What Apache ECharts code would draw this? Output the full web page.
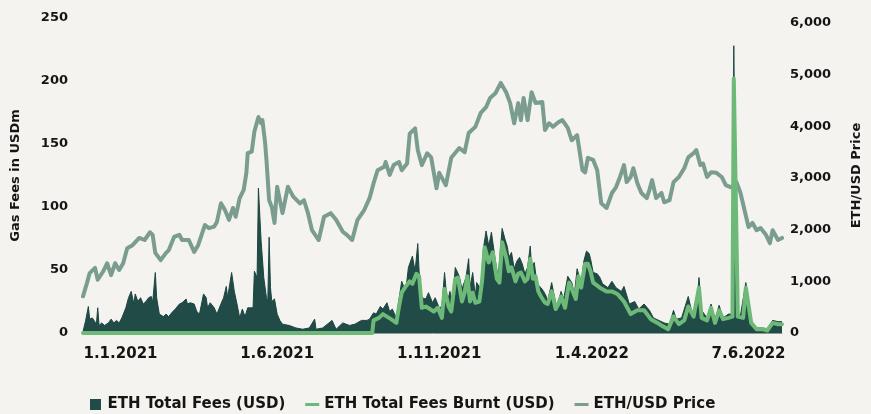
<!DOCTYPE html>
<html><head><meta charset="utf-8">
<script src="https://cdn.jsdelivr.net/npm/echarts@6/dist/echarts.min.js"></script>
<style>html,body{margin:0;padding:0;background:#f4f3ef;}#c{width:871px;height:414px;}</style>
</head><body><div id="c"></div>
<script>
// x = day index counted from 1.1.2021 (0 .. 522)
const xTickDays = [28, 145, 266, 380, 497];
const xTickLabels = ['1.1.2021', '1.6.2021', '1.11.2021', '1.4.2022', '7.6.2022'];

const priceDays = [0,3,5,9,11,15,18,21,24,27,30,33,37,42,46,50,52,54,58,62,64,68,72,74,79,83,86,91,94,98,100,103,106,109,112,114,117,120,122,123,126,128,131,133,134,136,137,139,141,143,145,149,153,157,162,165,168,171,176,180,185,189,194,197,201,205,210,214,217,220,225,226,229,232,236,238,242,244,248,250,253,257,260,264,266,271,275,281,285,288,293,297,301,304,308,312,316,319,322,325,327,329,332,335,338,343,345,348,351,355,358,362,365,369,373,375,377,381,384,387,391,395,398,401,404,406,409,411,414,417,421,423,425,428,432,434,438,441,445,449,452,456,458,461,463,466,469,473,477,480,484,488,491,494,497,500,503,506,510,513,515,519,522];
const priceValues = [710,970,1160,1260,1030,1190,1350,1120,1350,1220,1350,1640,1700,1840,1800,1950,1900,1550,1410,1550,1600,1860,1900,1800,1800,1570,1700,2090,2030,2060,2150,2510,2380,2190,2420,2250,2610,2770,3100,3480,3510,3900,4180,4060,4120,3680,3350,2570,2440,2130,2830,2320,2830,2640,2510,2570,2320,1990,1800,2250,2320,2190,1960,1900,1800,2190,2380,2610,2900,3150,3220,3310,3060,3250,3310,3150,3280,3860,3960,3540,3250,3480,3400,2800,3100,2860,3390,3580,3500,3870,3990,4260,4370,4550,4640,4840,4660,4450,4060,4450,4120,4550,4120,4660,4450,4470,3930,4060,3990,4080,4120,3970,3730,3830,3150,3110,3390,3350,3150,2510,2420,2710,2820,3020,3250,2920,3020,3190,2900,2710,2610,2770,2960,2610,2710,2530,2570,2920,3020,3190,3400,3480,3540,3250,3280,3020,3110,3100,3020,2860,2820,2920,2710,2380,2050,2130,1990,2030,1900,1740,1990,1800,1840];

const feeDays = [0,2,4,5,7,8,10,11,12,14,16,19,21,23,25,27,29,30,32,34,36,38,39,41,43,45,47,49,51,52,54,55,57,60,62,64,67,69,72,74,77,78,80,83,85,87,90,92,93,95,98,100,103,105,107,108,111,113,115,117,119,121,123,125,127,128,130,
  131,133,135,137,138,139,140,141,143,145,147,149,154,159,164,169,173,174,179,186,189,194,199,203,208,
  212,214,217,219,222,224,227,229,231,234,236,238,241,243,246,248,250,251,253,256,258,261,263,266,268,270,272,274,276,278,281,283,286,288,289,291,293,294,297,299,301,303,305,308,310,313,315,317,318,320,322,324,326,328,330,332,334,335,337,339,342,344,346,347,350,352,354,357,359,362,365,367,369,372,374,376,378,379,381,
  384,386,388,392,395,398,402,404,408,412,415,419,423,426,430,434,438,441,443,447,452,455,458,460,462,466,469,472,475,478,482,485,486,488,491,495,498,500,503,507,511,515,519,522];
const feeValues = [1,10,21,11,12,11,7,20,6,8,6,8,11,8,10,8,12,11,20,28,33,23,31,25,28,23,25,28,29,24,48,28,15,13,15,13,17,19,23,24,27,23,24,23,17,15,31,28,20,24,20,15,23,28,37,28,48,33,23,12,19,13,20,20,20,49,44,
  115,73,44,28,25,76,36,25,27,15,10,7,6,4,3,4,11,3,4,10,3,8,6,7,10,
  10,11,16,15,21,19,24,17,19,12,27,41,33,52,61,49,71,49,28,27,32,24,28,20,21,48,24,33,24,52,45,35,44,59,36,48,29,40,35,67,81,69,80,57,44,83,75,68,60,64,51,57,60,55,47,52,69,52,56,39,36,33,29,25,40,29,20,33,27,45,40,31,51,39,57,65,63,59,48,
  47,44,39,36,41,36,33,37,23,25,19,23,18,12,10,8,7,18,11,12,29,15,16,44,18,12,23,10,22,12,15,15,228,15,14,40,14,5,4,4,3,10,9,9];

const burntDays = [0,216,217,221,224,227,230,234,236,238,241,244,246,249,251,253,256,259,262,265,268,270,273,275,278,280,283,285,287,289,291,293,296,298,300,303,306,309,311,313,316,318,320,323,325,327,330,332,334,336,338,340,342,345,347,350,353,355,357,360,363,365,368,370,372,375,377,379,381,
  386,391,395,399,404,409,414,419,424,429,432,437,441,445,449,452,456,460,462,466,469,472,475,478,482,485,486,489,493,495,499,503,508,511,515,519,522];
const burntValues = [0,0,10,12,15,13,11,8,21,32,37,41,39,47,45,20,21,19,17,20,12,35,21,17,43,44,25,32,45,25,32,24,25,41,68,56,64,43,40,72,60,49,52,41,47,48,41,43,59,43,45,33,29,24,23,33,19,23,29,20,40,35,27,45,36,55,55,49,40,
  36,33,33,31,25,15,18,18,11,8,6,3,13,7,10,21,13,36,12,10,20,8,18,11,12,13,202,13,12,36,8,3,3,2,8,7,7];

function zip(a, b, name) {
  if (a.length !== b.length) throw new Error(name + ' length mismatch ' + a.length + ' vs ' + b.length);
  return a.map((d, i) => [d, b[i]]);
}

const FONT = 'DejaVu Sans';
const TXT = '#151515';
const chart = echarts.init(document.getElementById('c'), null, {renderer: 'canvas'});
chart.setOption({
  backgroundColor: '#f4f3ef',
  animation: false,
  textStyle: {fontFamily: FONT, fontWeight: 'bold', color: TXT},
  grid: {left: 83, right: 81, top: 18, bottom: 81},
  legend: {
    left: 85, top: 392, itemGap: 20, itemWidth: 14, itemHeight: 11,
    textStyle: {fontFamily: FONT, fontWeight: 'bold', fontSize: 15, color: TXT},
    data: [
      {name: 'ETH Total Fees (USD)', icon: 'path://M0,0H10V10H0Z'},
      {name: 'ETH Total Fees Burnt (USD)', icon: 'path://M0,0H14V3H0Z'},
      {name: 'ETH/USD Price', icon: 'path://M0,0H14V3H0Z'}
    ]
  },
  xAxis: {
    type: 'value', min: 0, max: 522,
    splitLine: {show: false},
    axisTick: {show: false},
    axisLine: {show: true, lineStyle: {color: '#8f9d99', width: 1}},
    axisLabel: {
      customValues: xTickDays,
      margin: 14, fontSize: 15, fontWeight: 'bold', color: TXT, fontFamily: FONT,
      formatter: function (v) { const i = xTickDays.indexOf(Math.round(v)); return i >= 0 ? xTickLabels[i] : ''; }
    }
  },
  yAxis: [
    {
      type: 'value', min: 0, max: 250, interval: 50, position: 'left',
      name: 'Gas Fees in USDm', nameLocation: 'middle', nameGap: 61, nameRotate: 90,
      nameTextStyle: {fontSize: 13, fontWeight: 'bold', color: TXT, fontFamily: FONT},
      splitLine: {show: false}, axisLine: {show: false}, axisTick: {show: false},
      axisLabel: {margin: 15, fontSize: 13, fontWeight: 'bold', color: TXT, fontFamily: FONT}
    },
    {
      type: 'value', min: 0, max: 6097, interval: 1000, position: 'right',
      name: 'ETH/USD Price', nameLocation: 'middle', nameGap: 68, nameRotate: 90,
      nameTextStyle: {fontSize: 13, fontWeight: 'bold', color: TXT, fontFamily: FONT},
      splitLine: {show: false}, axisLine: {show: false}, axisTick: {show: false},
      axisLabel: {
        margin: 8, fontSize: 13, fontWeight: 'bold', color: TXT, fontFamily: FONT, showMaxLabel: false,
        formatter: function (v) { return v % 1000 === 0 ? v.toLocaleString('en-US') : ''; }
      }
    }
  ],
  series: [
    {
      name: 'ETH Total Fees (USD)', type: 'line', yAxisIndex: 0, symbol: 'none',
      color: '#214b47',
      lineStyle: {color: '#1d4540', width: 1},
      areaStyle: {color: '#214b47', opacity: 1},
      data: zip(feeDays, feeValues, 'fee'), z: 2
    },
    {
      name: 'ETH/USD Price', type: 'line', yAxisIndex: 1, symbol: 'none',
      color: '#7b9d8f',
      lineStyle: {color: '#7b9d8f', width: 4, join: 'round', cap: 'round'},
      data: zip(priceDays, priceValues, 'price'), z: 3
    },
    {
      name: 'ETH Total Fees Burnt (USD)', type: 'line', yAxisIndex: 0, symbol: 'none',
      color: '#6dba78',
      lineStyle: {color: '#6dba78', width: 4, join: 'round', cap: 'round'},
      data: zip(burntDays, burntValues, 'burnt'), z: 4
    }
  ]
});
</script>
</body></html>
